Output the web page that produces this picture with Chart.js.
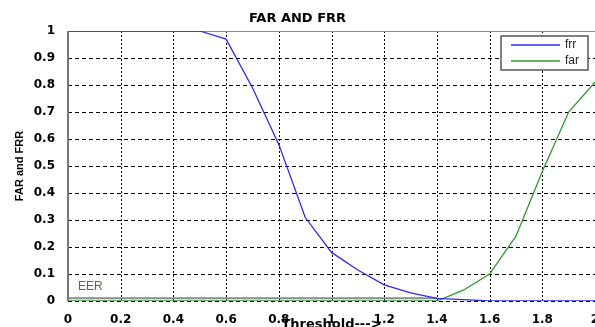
<!DOCTYPE html>
<html>
<head>
<meta charset="utf-8">
<script src="https://cdn.jsdelivr.net/npm/chart.js@4.4.0/dist/chart.umd.min.js"></script>
<style>
html,body{margin:0;padding:0;background:#fff;overflow:hidden}
</style>
</head>
<body>
<canvas id="myChart" width="595" height="327"></canvas>
<script>
// threshold values the curves were sampled at
const thresholds = [0,0.1,0.2,0.3,0.4,0.5,0.6,0.7,0.8,0.9,1.0,1.1,1.2,1.3,1.4,1.5,1.6,1.7,1.8,1.9,2.0];
const frr = [1,1,1,1,1,1,0.97,0.79,0.58,0.31,0.18,0.115,0.06,0.03,0.01,0.005,0,0,0,0,0];
const far = [0,0,0,0,0,0,0,0,0,0,0,0,0,0,0,0.04,0.1,0.24,0.48,0.70,0.81];
// equal error rate marker
const eerX = [0,1.4];
const eerY = [0.01,0.01];

const xTicks = [0,0.2,0.4,0.6,0.8,1,1.2,1.4,1.6,1.8,2];
const yTicks = [0,0.1,0.2,0.3,0.4,0.5,0.6,0.7,0.8,0.9,1];

function pts(xs, ys){
  return xs.map((x,i)=>({x:x, y:ys[i]}));
}

const tickFont = {family:'DejaVu Sans', weight:'bold', size:12};

// dashed matlab style grid, drawn under the lines
const dashedGrid = {
  id:'dashed_grid',
  beforeDatasetsDraw:(chart)=>{
    const ctx = chart.ctx;
    const a = chart.chartArea;
    const xs = chart.scales.x, ys = chart.scales.y;
    ctx.save();
    ctx.strokeStyle = '#000';
    ctx.lineWidth = 1;
    ctx.setLineDash([2,2]);
    xTicks.forEach(v=>{
      const px = Math.round(xs.getPixelForValue(v)) + 0.5;
      ctx.beginPath();
      ctx.moveTo(px, a.top);
      ctx.lineTo(px, a.bottom);
      ctx.stroke();
    });
    ctx.setLineDash([4,3]);
    yTicks.forEach(v=>{
      if (v===1) return;
      const py = Math.round(ys.getPixelForValue(v)) + 0.5;
      ctx.beginPath();
      ctx.moveTo(a.left, py);
      ctx.lineTo(a.right, py);
      ctx.stroke();
    });
    // frame: top and left
    ctx.setLineDash([]);
    ctx.strokeStyle = '#888';
    ctx.beginPath();
    ctx.moveTo(a.left, a.top + 0.5);
    ctx.lineTo(a.right, a.top + 0.5);
    ctx.stroke();
    ctx.restore();
  }
};

const legendBox = {
  id:'legend_box',
  afterDraw:(chart)=>{
    const ctx = chart.ctx;
    const a = chart.chartArea;
    const x0 = a.right - 94, y0 = a.top + 5, w = 87, h = 34;
    ctx.save();
    ctx.fillStyle = '#fff';
    ctx.fillRect(x0, y0, w, h);
    ctx.strokeStyle = '#555';
    ctx.lineWidth = 1.5;
    ctx.strokeRect(x0, y0, w, h);
    ctx.font = '12px "Liberation Sans"';
    ctx.textBaseline = 'middle';
    [0,1].forEach(i=>{
      const ds = chart.data.datasets[i];
      const y = y0 + 9 + i*16;
      ctx.strokeStyle = ds.borderColor;
      ctx.lineWidth = 1.3;
      ctx.beginPath();
      ctx.moveTo(x0 + 10, y);
      ctx.lineTo(x0 + 59, y);
      ctx.stroke();
      ctx.fillStyle = '#222';
      ctx.fillText(ds.label, x0 + 64, y);
    });
    // EER label
    ctx.font = '12px "Liberation Sans"';
    ctx.fillStyle = '#7a5a3a';
    ctx.textBaseline = 'alphabetic';
    ctx.fillText('EER', a.left + 10, a.bottom - 11);
    // left axis line
    ctx.strokeStyle = '#777';
    ctx.lineWidth = 2;
    ctx.beginPath();
    ctx.moveTo(a.left, a.top);
    ctx.lineTo(a.left, a.bottom);
    ctx.stroke();
    ctx.restore();
  }
};

const config = {
  type:'line',
  data:{
    datasets:[{
      label:'frr',
      data:pts(thresholds, frr),
      borderColor:'#2b2bf5',
      borderWidth:1.3,
      pointRadius:0,
      order:1
    },{
      label:'far',
      data:pts(thresholds, far),
      borderColor:'#2e9a2e',
      borderWidth:1.3,
      pointRadius:0,
      order:2
    },{
      label:'EER',
      data:pts(eerX, eerY),
      borderColor:'#8a8a8a',
      borderWidth:2,
      pointRadius:0,
      order:3
    }]
  },
  options:{
    responsive:false,
    animation:false,
    layout:{padding:0},
    plugins:{
      legend:{display:false},
      tooltip:{enabled:false},
      title:{
        display:true,
        text:'FAR AND FRR',
        color:'#000',
        font:{family:'DejaVu Sans', weight:'bold', size:13, lineHeight:1.2},
        padding:{top:11, bottom:4.4}
      }
    },
    scales:{
      x:{
        type:'linear',
        min:0, max:2,
        afterBuildTicks:(s)=>{ s.ticks = xTicks.map(v=>({value:v})); },
        afterFit:(s)=>{ s.height = 26; s.paddingLeft = 0; s.paddingRight = 0; },
        ticks:{font:tickFont, color:'#000', padding:4, maxRotation:0, autoSkip:false,
          callback:(v)=>String(v)},
        grid:{display:false},
        border:{display:false},
        title:{display:true, text:'Threshold--->', color:'#000',
          font:{family:'DejaVu Sans', weight:'bold', size:13, lineHeight:1.2},
          padding:{top:0, bottom:-5.5}}
      },
      y:{
        min:0, max:1,
        afterBuildTicks:(s)=>{ s.ticks = yTicks.map(v=>({value:v})); },
        afterFit:(s)=>{ s.width = 68; s.paddingTop = 0; s.paddingBottom = 0; },
        ticks:{font:tickFont, color:'#000', padding:5, autoSkip:false,
          callback:(v)=>String(v)},
        grid:{display:false},
        border:{display:false},
        title:{display:true, text:'FAR and FRR', color:'#000',
          font:{family:'Liberation Sans', weight:'bold', size:11, lineHeight:1.2},
          padding:{top:13, bottom:0}}
      }
    }
  },
  plugins:[dashedGrid, legendBox]
};

const myChart = new Chart(document.getElementById('myChart'), config);
</script>
</body>
</html>
